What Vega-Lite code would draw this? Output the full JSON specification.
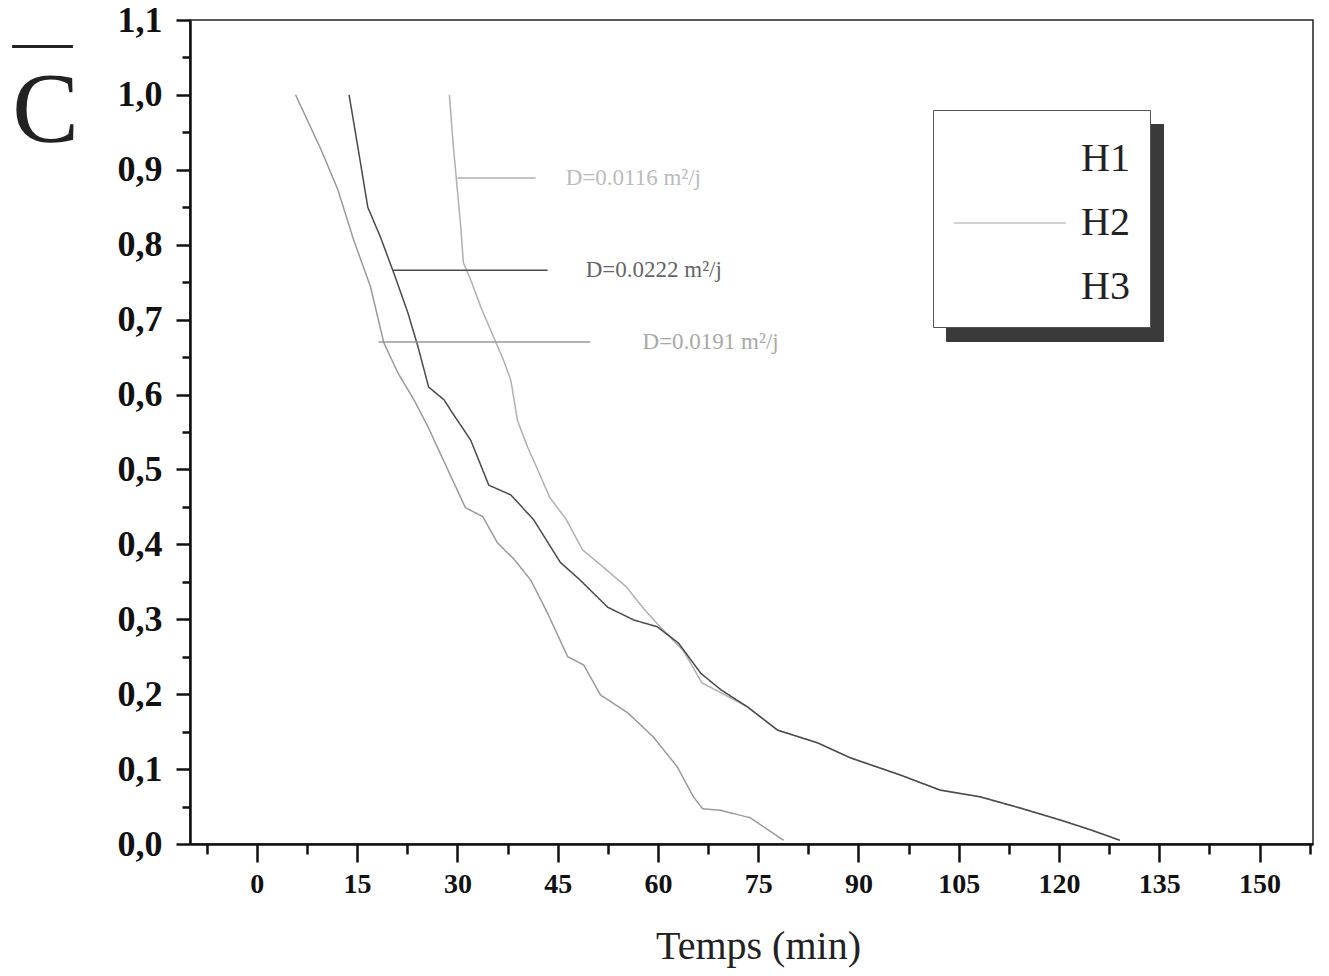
{
  "$schema": "https://vega.github.io/schema/vega-lite/v6.json",
  "width": 1123,
  "height": 824,
  "autosize": {"type": "none"},
  "padding": {"left": 190, "top": 20, "right": 16, "bottom": 132},
  "background": "white",
  "config": {
    "view": {"stroke": "#222", "strokeWidth": 1.5},
    "font": "Liberation Serif"
  },
  "resolve": {"axis": {"x": "independent", "y": "independent"}},
  "datasets": {
    "curves": [
      {"series": "H1", "t": 28.8, "c": 1.0},
      {"series": "H1", "t": 29.4, "c": 0.931},
      {"series": "H1", "t": 30.0, "c": 0.873},
      {"series": "H1", "t": 30.5, "c": 0.824},
      {"series": "H1", "t": 30.9, "c": 0.776},
      {"series": "H1", "t": 32.0, "c": 0.753},
      {"series": "H1", "t": 33.5, "c": 0.717},
      {"series": "H1", "t": 35.4, "c": 0.677},
      {"series": "H1", "t": 36.9, "c": 0.646},
      {"series": "H1", "t": 38.0, "c": 0.619},
      {"series": "H1", "t": 39.0, "c": 0.565},
      {"series": "H1", "t": 40.5, "c": 0.53},
      {"series": "H1", "t": 42.0, "c": 0.5},
      {"series": "H1", "t": 43.8, "c": 0.463},
      {"series": "H1", "t": 46.3, "c": 0.433},
      {"series": "H1", "t": 48.7, "c": 0.393},
      {"series": "H1", "t": 52.3, "c": 0.366},
      {"series": "H1", "t": 55.3, "c": 0.343},
      {"series": "H1", "t": 57.7, "c": 0.316},
      {"series": "H1", "t": 59.8, "c": 0.295},
      {"series": "H1", "t": 63.8, "c": 0.258},
      {"series": "H1", "t": 66.6, "c": 0.215},
      {"series": "H1", "t": 69.4, "c": 0.202},
      {"series": "H1", "t": 73.4, "c": 0.183},
      {"series": "H1", "t": 77.9, "c": 0.152},
      {"series": "H1", "t": 83.9, "c": 0.135},
      {"series": "H1", "t": 88.8, "c": 0.115},
      {"series": "H1", "t": 96.3, "c": 0.092},
      {"series": "H1", "t": 102.2, "c": 0.072},
      {"series": "H1", "t": 108.2, "c": 0.063},
      {"series": "H1", "t": 114.2, "c": 0.048},
      {"series": "H1", "t": 120.2, "c": 0.032},
      {"series": "H1", "t": 124.7, "c": 0.019},
      {"series": "H1", "t": 129.1, "c": 0.005},
      {"series": "H3", "t": 5.8, "c": 1.0},
      {"series": "H3", "t": 9.6, "c": 0.927},
      {"series": "H3", "t": 12.1, "c": 0.874},
      {"series": "H3", "t": 14.5, "c": 0.806},
      {"series": "H3", "t": 17.0, "c": 0.744},
      {"series": "H3", "t": 19.0, "c": 0.669},
      {"series": "H3", "t": 21.1, "c": 0.629},
      {"series": "H3", "t": 23.5, "c": 0.593},
      {"series": "H3", "t": 25.6, "c": 0.557},
      {"series": "H3", "t": 28.6, "c": 0.499},
      {"series": "H3", "t": 31.2, "c": 0.449},
      {"series": "H3", "t": 33.8, "c": 0.437},
      {"series": "H3", "t": 36.0, "c": 0.402},
      {"series": "H3", "t": 38.5, "c": 0.38},
      {"series": "H3", "t": 41.0, "c": 0.352},
      {"series": "H3", "t": 43.5, "c": 0.308},
      {"series": "H3", "t": 46.5, "c": 0.25},
      {"series": "H3", "t": 48.9, "c": 0.239},
      {"series": "H3", "t": 51.4, "c": 0.199},
      {"series": "H3", "t": 55.5, "c": 0.175},
      {"series": "H3", "t": 59.3, "c": 0.143},
      {"series": "H3", "t": 62.9, "c": 0.103},
      {"series": "H3", "t": 65.3, "c": 0.063},
      {"series": "H3", "t": 66.7, "c": 0.047},
      {"series": "H3", "t": 69.4, "c": 0.045},
      {"series": "H3", "t": 73.8, "c": 0.035},
      {"series": "H3", "t": 78.8, "c": 0.005},
      {"series": "H2", "t": 13.8, "c": 1.0},
      {"series": "H2", "t": 15.1, "c": 0.931},
      {"series": "H2", "t": 16.6, "c": 0.85},
      {"series": "H2", "t": 18.5, "c": 0.81},
      {"series": "H2", "t": 20.5, "c": 0.762},
      {"series": "H2", "t": 22.6, "c": 0.709},
      {"series": "H2", "t": 24.1, "c": 0.664},
      {"series": "H2", "t": 25.7, "c": 0.61},
      {"series": "H2", "t": 28.0, "c": 0.593},
      {"series": "H2", "t": 29.0, "c": 0.579},
      {"series": "H2", "t": 32.0, "c": 0.539},
      {"series": "H2", "t": 34.7, "c": 0.479},
      {"series": "H2", "t": 38.0, "c": 0.466},
      {"series": "H2", "t": 41.4, "c": 0.433},
      {"series": "H2", "t": 45.4, "c": 0.376},
      {"series": "H2", "t": 48.4, "c": 0.352},
      {"series": "H2", "t": 52.5, "c": 0.316},
      {"series": "H2", "t": 56.4, "c": 0.299},
      {"series": "H2", "t": 59.9, "c": 0.29},
      {"series": "H2", "t": 63.1, "c": 0.268},
      {"series": "H2", "t": 66.4, "c": 0.228},
      {"series": "H2", "t": 69.4, "c": 0.206},
      {"series": "H2", "t": 73.4, "c": 0.183},
      {"series": "H2", "t": 77.9, "c": 0.152},
      {"series": "H2", "t": 83.9, "c": 0.135},
      {"series": "H2", "t": 88.8, "c": 0.115},
      {"series": "H2", "t": 96.3, "c": 0.092},
      {"series": "H2", "t": 102.2, "c": 0.072},
      {"series": "H2", "t": 108.2, "c": 0.063},
      {"series": "H2", "t": 114.2, "c": 0.048},
      {"series": "H2", "t": 120.2, "c": 0.032},
      {"series": "H2", "t": 124.7, "c": 0.019},
      {"series": "H2", "t": 129.1, "c": 0.005}
    ],
    "notes": [
      {"series": "H1", "x1": 30.0, "x2": 41.7, "y": 0.889, "tx": 46.2, "label": "D=0.0116 m²/j"},
      {"series": "H2", "x1": 20.3, "x2": 43.5, "y": 0.766, "tx": 49.2, "label": "D=0.0222 m²/j"},
      {"series": "H3", "x1": 18.2, "x2": 49.9, "y": 0.67, "tx": 57.7, "label": "D=0.0191 m²/j"}
    ]
  },
  "layer": [
    {
      "data": {"name": "curves"},
      "mark": {"type": "line", "strokeWidth": 1.5},
      "encoding": {
        "x": {
          "field": "t",
          "type": "quantitative",
          "scale": {"domain": [-10, 158], "nice": false, "zero": false},
          "axis": {
            "orient": "bottom",
            "values": [0, 15, 30, 45, 60, 75, 90, 105, 120, 135, 150],
            "tickSize": 18,
            "grid": false,
            "domainColor": "#111",
            "domainWidth": 2.5,
            "tickColor": "#111",
            "tickWidth": 2.5,
            "labelFont": "Liberation Serif",
            "labelFontSize": 28,
            "labelFontWeight": "bold",
            "labelColor": "#111",
            "labelPadding": 8,
            "labelOverlap": false,
            "labelFlush": false,
            "title": "Temps (min)",
            "titleFont": "Liberation Serif",
            "titleFontSize": 40,
            "titleFontWeight": "normal",
            "titleColor": "#222",
            "titleAlign": "center",
            "titleBaseline": "alphabetic",
            "titleX": 568,
            "titleY": 114
          }
        },
        "y": {
          "field": "c",
          "type": "quantitative",
          "scale": {"domain": [0, 1.1], "nice": false, "zero": false},
          "axis": {
            "orient": "left",
            "values": [0, 0.1, 0.2, 0.3, 0.4, 0.5, 0.6, 0.7, 0.8, 0.9, 1, 1.1],
            "labelExpr": "replace(format(datum.value, '.1f'), '.', ',')",
            "tickSize": 14,
            "grid": false,
            "domainColor": "#111",
            "domainWidth": 2.5,
            "tickColor": "#111",
            "tickWidth": 2.5,
            "labelFont": "Liberation Serif",
            "labelFontSize": 36,
            "labelFontWeight": "bold",
            "labelColor": "#111",
            "labelPadding": 14,
            "labelOverlap": false,
            "labelFlush": false,
            "title": "C",
            "titleFont": "Liberation Serif",
            "titleFontSize": 100,
            "titleFontWeight": "normal",
            "titleColor": "#222",
            "titleAngle": 0,
            "titleAlign": "center",
            "titleBaseline": "alphabetic",
            "titleX": -145,
            "titleY": 120
          }
        },
        "color": {
          "field": "series",
          "type": "nominal",
          "scale": {"domain": ["H1", "H2", "H3"], "range": ["#b0b0b0", "#4a4a4a", "#9a9a9a"]},
          "legend": {
            "orient": "none",
            "legendX": 756,
            "legendY": 104,
            "title": null,
            "fillColor": "#3a3a3a",
            "strokeColor": "#3a3a3a",
            "padding": 20,
            "symbolType": "M-1,0H3",
            "symbolSize": 3136,
            "symbolStrokeWidth": 1.5,
            "symbolOpacity": 0,
            "labelFont": "Liberation Serif",
            "labelFontSize": 40,
            "labelColor": "#3a3a3a",
            "labelOpacity": 0,
            "labelOffset": 70,
            "rowPadding": 15
          }
        },
        "strokeDash": {
          "field": "series",
          "type": "nominal",
          "scale": {"range": [[1, 0], [1, 0], [1, 0]]},
          "legend": {
            "orient": "none",
            "legendX": 743,
            "legendY": 90,
            "title": null,
            "fillColor": "white",
            "strokeColor": "#555",
            "padding": 20,
            "symbolType": "M-1,0H3",
            "symbolSize": 3136,
            "symbolStrokeWidth": 1.5,
            "symbolFillColor": "transparent",
            "labelFont": "Liberation Serif",
            "labelFontSize": 40,
            "labelColor": "#222",
            "labelOffset": 70,
            "rowPadding": 15,
            "encode": {
              "symbols": {
                "update": {
                  "stroke": {"signal": "datum.value === 'H2' ? '#c4c4c4' : 'transparent'"}
                }
              }
            }
          }
        }
      }
    },
    {
      "data": {"name": "notes"},
      "mark": {"type": "rule", "strokeWidth": 1.5},
      "encoding": {
        "x": {
          "field": "x1",
          "type": "quantitative",
          "axis": {
            "orient": "bottom",
            "values": [-7.5, 7.5, 22.5, 37.5, 52.5, 67.5, 82.5, 97.5, 112.5, 127.5, 142.5, 157.5],
            "tickSize": 10,
            "tickWidth": 2.5,
            "tickColor": "#111",
            "labels": false,
            "domain": false,
            "grid": false,
            "title": null
          }
        },
        "x2": {"field": "x2"},
        "y": {
          "field": "y",
          "type": "quantitative",
          "axis": {
            "orient": "left",
            "values": [0.05, 0.15, 0.25, 0.35, 0.45, 0.55, 0.65, 0.75, 0.85, 0.95, 1.05],
            "tickSize": 8,
            "tickWidth": 2.5,
            "tickColor": "#111",
            "labels": false,
            "domain": false,
            "grid": false,
            "title": "—",
            "titleFont": "Liberation Serif",
            "titleFontSize": 60,
            "titleFontWeight": "normal",
            "titleColor": "#222",
            "titleAngle": 0,
            "titleAlign": "center",
            "titleBaseline": "alphabetic",
            "titleX": -148,
            "titleY": 39
          }
        },
        "color": {"field": "series", "type": "nominal", "legend": null}
      }
    },
    {
      "data": {"name": "notes"},
      "mark": {"type": "text", "align": "left", "baseline": "middle", "font": "Liberation Serif", "fontSize": 23, "opacity": 0.85},
      "encoding": {
        "x": {"field": "tx", "type": "quantitative", "axis": null},
        "y": {"field": "y", "type": "quantitative", "axis": null},
        "text": {"field": "label"},
        "color": {"field": "series", "type": "nominal", "legend": null}
      }
    }
  ]
}
